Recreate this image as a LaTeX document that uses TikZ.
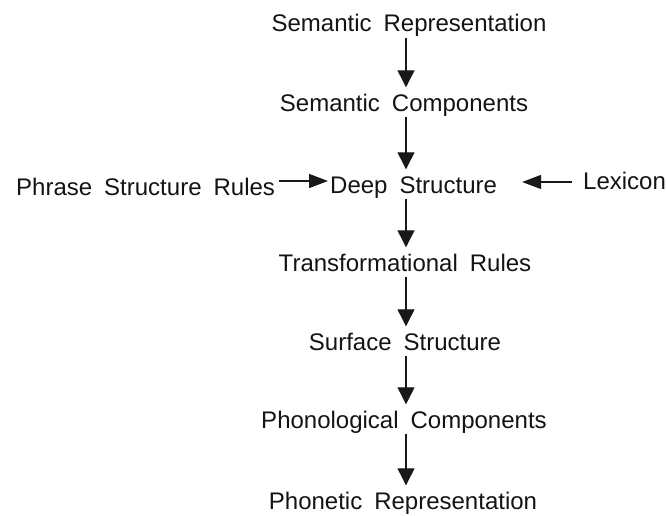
\documentclass[tikz,border=0pt]{standalone}
\usepackage{fontspec}
\setmainfont{Liberation Sans}
\usetikzlibrary{arrows.meta,calc}

\begin{document}
\begin{tikzpicture}[x=1pt,y=-1pt,
  label/.style={inner sep=0pt, anchor=base, text height=17.5pt, text depth=5pt,
    font={\fontsize{24}{28}\selectfont\spaceskip=0.5em plus 0.1em\relax}, text=black!92},
  down/.style={line width=1.2pt, draw=black!90,
    -{Triangle[width=17pt,length=17pt]}, shorten <=1pt, shorten >=6pt},
  side/.style={line width=1.3pt, draw=black!90,
    -{Triangle[width=14pt,length=19pt]}}
]
\useasboundingbox[fill=white] (0,0) rectangle (666,516);

% vertical spine of the derivation
\coordinate (col) at (406,0);

\node[label] (sr)  at (409,31.5) {Semantic Representation};
\node[label] (sc)  at (404,111)  {Semantic Components};
\node[label, anchor=base west] (ds)  at (330,193) {Deep Structure};
\node[label, anchor=base west] (psr) at (16,195)  {Phrase Structure Rules};
\node[label, anchor=base west] (lex) at (583,189) {Lexicon};
\node[label] (tr)  at (405,271)  {Transformational Rules};
\node[label] (ss)  at (405,350)  {Surface Structure};
\node[label] (pc)  at (404,428)  {Phonological Components};
\node[label] (pr)  at (403,509)  {Phonetic Representation};

% main chain
\draw[down] (sr.south -| col) -- (sc.north -| col);
\draw[down] (sc.south -| col) -- (ds.north -| col);
\draw[down] (ds.south -| col) -- (tr.north -| col);
\draw[down] (tr.south -| col) -- (ss.north -| col);
\draw[down] (ss.south -| col) -- (pc.north -| col);
\draw[down] (pc.south -| col) -- (pr.north -| col);

% inputs to the deep structure
\draw[side, shorten <=4pt, shorten >=2pt]
  ([yshift=14pt]psr.base east) -- ([yshift=12pt]ds.base west);
\coordinate (lexin) at ($(lex.base west)+(-11,-7)$);
\coordinate (lextip) at ($(ds.east |- lexin)+(25,0)$);
\draw[side] (lexin) -- (lextip);
\end{tikzpicture}
\end{document}
